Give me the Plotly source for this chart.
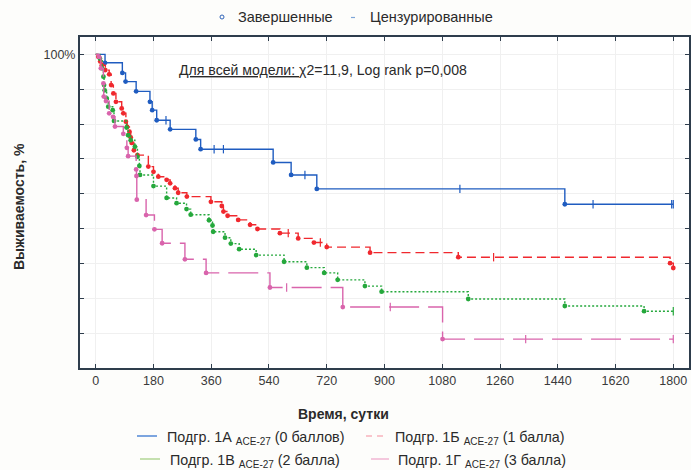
import plotly.graph_objects as go

# ---------------- data (days, survival %) ----------------
# Group 1A ACE-27 (0 points)
a_event_t = [29, 83, 93, 126, 169, 176, 190, 232, 312, 327, 553, 609, 689, 1462]
a_event_s = [97.6, 94.7, 92.2, 89.4, 86.4, 84.0, 81.1, 78.5, 75.6, 72.8, 69.0, 65.4, 61.4, 57.0]
a_cens_t = [219, 369, 398, 652, 1135, 1550, 1795, 1800]

# Group 1B ACE-27 (1 point)
b_event_t = [8, 14, 19, 30, 42, 48, 55, 63, 81, 86, 94, 98, 105, 109, 112, 119, 130, 164, 180, 195,
             221, 232, 247, 257, 284, 359, 393, 398, 411, 444, 481, 504, 574, 631, 680, 720, 855, 1130,
             1790, 1800]
b_event_s = [99.3, 98.0, 96.9, 95.5, 94.3, 91.2, 88.8, 86.4, 84.5, 83.1, 80.7, 79.2, 77.8, 76.2, 74.6,
             72.5, 71.1, 67.8, 66.3, 64.9, 64.0, 63.0, 61.6, 60.3, 59.2, 57.7, 56.5, 54.9, 53.7, 52.5,
             51.1, 49.9, 48.7, 47.2, 46.0, 44.7, 43.1, 41.8, 40.1, 38.7]
b_cens_t = [600, 700, 1240]

# Group 1V ACE-27 (2 points)
c_event_t = [13, 20, 24, 26, 28, 34, 39, 53, 57, 96, 101, 109, 122, 130, 136, 138, 180, 221, 252, 283,
             296, 353, 364, 366, 403, 421, 447, 500, 587, 658, 712, 754, 839, 891, 1161, 1462, 1709]
c_event_s = [98.8, 96.0, 93.6, 91.2, 89.7, 87.4, 85.0, 84.0, 80.9, 79.0, 76.8, 75.4, 73.5, 70.6, 68.0,
             65.4, 62.2, 58.8, 57.3, 55.6, 54.0, 52.4, 50.9, 49.1, 47.4, 45.7, 44.1, 42.4, 40.5, 38.8,
             37.3, 35.3, 33.5, 31.9, 29.8, 27.8, 26.3]
c_cens_t = [1800]

# Group 1G ACE-27 (3 points)
d_event_t = [10, 16, 24, 25, 32, 42, 54, 60, 86, 97, 101, 126, 127, 128, 157, 183, 207, 278, 344, 543,
             770, 1081]
d_event_s = [99.3, 96.0, 91.7, 87.9, 86.6, 83.1, 82.1, 79.3, 77.2, 73.2, 70.8, 67.0, 65.1, 58.3, 53.9,
             49.8, 45.8, 41.2, 37.3, 33.1, 27.5, 18.3]
d_cens_t = [595, 918, 1340, 1800]

x_ticks = [0, 180, 360, 540, 720, 900, 1080, 1260, 1440, 1620, 1800]
y_ticks = [10, 20, 30, 40, 50, 60, 70, 80, 90, 100]
y_tick_text = [""] * 9 + ["100%"]

groups = [
    ("Подгр. 1А", "(0 баллов)", a_event_t, a_event_s, a_cens_t, "#1f5cc0", "solid", "#5b8fd8", "solid"),
    ("Подгр. 1Б", "(1 балла)", b_event_t, b_event_s, b_cens_t, "#f0282e", "9px,5px", "#f7b3bd", "6px,5px"),
    ("Подгр. 1В", "(2 балла)", c_event_t, c_event_s, c_cens_t, "#25a83c", "2px,2px", "#b7d89c", "solid"),
    ("Подгр. 1Г", "(3 балла)", d_event_t, d_event_s, d_cens_t, "#d964ac", "30px,9px", "#f2bad6", "solid"),
]


def level_at(t, ev_t, ev_s):
    s = 100.0
    for tt, ss in zip(ev_t, ev_s):
        if tt <= t:
            s = ss
    return s


fig = go.Figure()
for name, pts, ev_t, ev_s, cens_t, col, dash, lcol, ldash in groups:
    end_t = max([ev_t[-1]] + cens_t)
    xs = [0] + ev_t + ([end_t] if end_t > ev_t[-1] else [])
    ys = [100.0] + ev_s + ([ev_s[-1]] if end_t > ev_t[-1] else [])
    fig.add_trace(go.Scatter(x=xs, y=ys, mode="lines", line=dict(color=col, width=1.4, dash=dash, shape="hv"),
                             showlegend=False, hoverinfo="skip"))
    fig.add_trace(go.Scatter(x=ev_t, y=ev_s, mode="markers",
                             marker=dict(symbol="circle", size=4.8, color=col, line=dict(width=0)),
                             showlegend=False))
    cs = [level_at(t, ev_t, ev_s) for t in cens_t]
    fig.add_trace(go.Scatter(x=cens_t, y=cs, mode="markers",
                             marker=dict(symbol="line-ns", size=6, line=dict(color=col, width=1.2)),
                             showlegend=False))

# ---------------- layout ----------------
L, R, T, B = 80, 689, 37, 368
W, H = R - L, B - T


def px(x):
    return (x - L) / W


def py(y):
    return (B - y) / H


FONT = "Liberation Sans, Arial, sans-serif"
frame = "#2e3d4c"

annotations = []
shapes = []


def text(x, y, s, size=13, anchor="left", bold=False, angle=0, color="#2a2a2a"):
    annotations.append(dict(x=px(x), y=py(y), xref="paper", yref="paper", text=s, showarrow=False,
                            xanchor=anchor, yanchor="middle", textangle=angle,
                            font=dict(family=FONT, size=size, color=color,
                                      weight="bold" if bold else "normal")))


# top legend
shapes.append(dict(type="circle", xref="paper", yref="paper", x0=px(220), x1=px(224), y0=py(19), y1=py(15),
                   line=dict(color="#2f63b8", width=1)))
text(236, 17, "Завершенные", size=14.5)
shapes.append(dict(type="line", xref="paper", yref="paper", x0=px(351), x1=px(355), y0=py(17.5), y1=py(17.5),
                   line=dict(color="#7ea6d8", width=1.2)))
text(368, 17, "Цензурированные", size=14.5)

# model annotation
text(177, 70, "<u>Для всей модели: </u>χ2=11,9, Log rank p=0,008", size=14.1)

# axis titles
text(343, 414, "Время, сутки", size=14, anchor="center", bold=True)
text(19, 207, "Выживаемость, %", size=14, anchor="center", bold=True, angle=-90)

# bottom legend
leg_rows = [(438, 0), (438, 1), (461, 2), (461, 3)]
leg_x = [(137, 157, 165), (366, 385, 393), (140, 160, 168), (371, 389, 396)]
for (yy, gi), (x0, x1, xt) in zip(leg_rows, leg_x):
    name, pts, *_rest = groups[gi]
    lcol, ldash = groups[gi][7], groups[gi][8]
    shapes.append(dict(type="line", xref="paper", yref="paper", x0=px(x0), x1=px(x1), y0=py(yy - 2),
                       y1=py(yy - 2), line=dict(color=lcol, width=1.6, dash=ldash)))
    text(xt, yy, f"{name} <sub>ACE-27</sub> {pts}", size=14.3)

fig.update_layout(
    width=691, height=470,
    margin=dict(l=L, r=691 - R, t=T, b=470 - B, autoexpand=False),
    paper_bgcolor="#fdfdfb", plot_bgcolor="white",
    font=dict(family=FONT, size=12.5, color="#3a3a3a"),
    showlegend=False,
    annotations=annotations, shapes=shapes,
    xaxis=dict(range=[-49, 1849], tickvals=x_ticks, ticktext=[str(v) for v in x_ticks],
               automargin=False,
               showline=True, linecolor=frame, linewidth=2, mirror="ticks",
               ticks="inside", ticklen=4, tickcolor=frame, tickwidth=1,
               showgrid=True, gridcolor="#f0f0f0", gridwidth=1, zeroline=False,
               tickfont=dict(size=12.5, color="#3a3a3a")),
    yaxis=dict(range=[10, 105], tickvals=y_ticks, ticktext=y_tick_text,
               automargin=False,
               showline=True, linecolor=frame, linewidth=2, mirror="ticks",
               ticks="inside", ticklen=4, tickcolor=frame, tickwidth=1,
               showgrid=True, gridcolor="#f0f0f0", gridwidth=1, zeroline=False,
               tickfont=dict(size=12.5, color="#3a3a3a")),
)

fig.write_html("out.html", config={"displayModeBar": False},
               post_script="document.body.style.margin='0px';document.body.style.overflow='hidden';")
